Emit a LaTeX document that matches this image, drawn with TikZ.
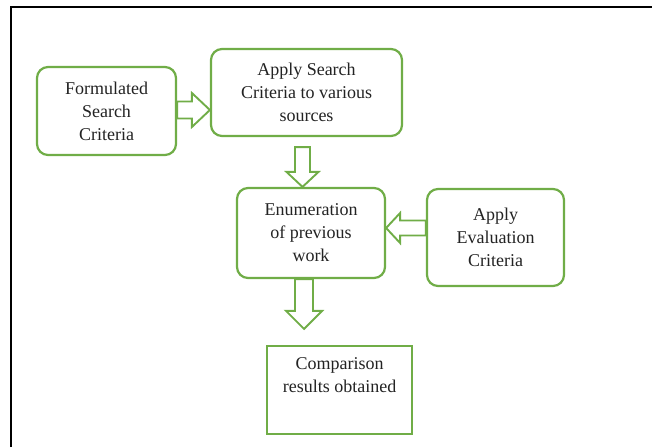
\documentclass[tikz,border=0pt]{standalone}
\usepackage{fontspec}
\setmainfont{Liberation Serif}
\usetikzlibrary{calc}
\definecolor{flowgreen}{RGB}{112,173,71}
\definecolor{inkgray}{RGB}{35,35,35}
\begin{document}
\begin{tikzpicture}[x=1pt,y=-1pt,
  every node/.style={font=\fontsize{18}{23}\selectfont, text=inkgray, align=center, inner sep=0pt},
  rbox/.style={draw=flowgreen, line width=2.2pt, rounded corners=11pt, fill=white},
  sbox/.style={draw=flowgreen, line width=2.2pt, fill=white},
  barrow/.style={draw=flowgreen, line width=1.9pt, fill=white, line join=miter}]
  \useasboundingbox (0,0) rectangle (652,447);
  % outer frame (top and left edges)
  \draw[line width=2.6pt, black] (11,447) -- (11,7) -- (652,7);

  % process boxes
  \node[rbox, minimum width=139, minimum height=88] (f) at (106.5,111) {Formulated\\Search\\Criteria};
  \node[rbox, minimum width=191, minimum height=87] (s) at (306.5,92.5) {Apply Search\\Criteria to various\\sources};
  \node[rbox, minimum width=148, minimum height=90] (e) at (311,233) {Enumeration\\of previous\\work};
  \node[rbox, minimum width=137, minimum height=97] (v) at (495.5,237.5) {Apply\\Evaluation\\Criteria};
  \node[sbox, minimum width=145, minimum height=88] (c) at (339.5,390) {Comparison\\results obtained\\\strut};

  % block arrow: search criteria -> sources
  \coordinate (a0) at ($(f.east)+(0,-1)$);
  \coordinate (a1) at (s.west |- a0);
  \draw[barrow] ($(a0)+(0,-8.5)$) -- ($(a1)+(-18,-8.5)$) -- ($(a1)+(-18,-17)$) -- (a1)
    -- ($(a1)+(-18,17)$) -- ($(a1)+(-18,8.5)$) -- ($(a0)+(0,8.5)$) -- cycle;

  % block arrow: sources -> enumeration
  \coordinate (b0) at ($(s.south)+(-4,10)$);
  \coordinate (b1) at (b0 |- e.north);
  \draw[barrow] ($(b0)+(-7.5,0)$) -- ($(b1)+(-7.5,-15)$) -- ($(b1)+(-16,-15)$) -- (b1)
    -- ($(b1)+(16,-15)$) -- ($(b1)+(7.5,-15)$) -- ($(b0)+(7.5,0)$) -- cycle;

  % block arrow: evaluation criteria -> enumeration
  \coordinate (c0) at ($(v.west)+(0,-9.5)$);
  \coordinate (c1) at (e.east |- c0);
  \draw[barrow] ($(c0)+(0,-7.5)$) -- ($(c1)+(14,-7.5)$) -- ($(c1)+(14,-15)$) -- (c1)
    -- ($(c1)+(14,15)$) -- ($(c1)+(14,7.5)$) -- ($(c0)+(0,7.5)$) -- cycle;

  % block arrow: enumeration -> comparison
  \coordinate (d0) at ($(e.south)+(-7,0)$);
  \coordinate (d1) at ($(d0 |- c.north)+(0,-16)$);
  \draw[barrow] ($(d0)+(-9,0)$) -- ($(d1)+(-9,-18)$) -- ($(d1)+(-18,-18)$) -- (d1)
    -- ($(d1)+(18,-18)$) -- ($(d1)+(9,-18)$) -- ($(d0)+(9,0)$) -- cycle;
\end{tikzpicture}
\end{document}
